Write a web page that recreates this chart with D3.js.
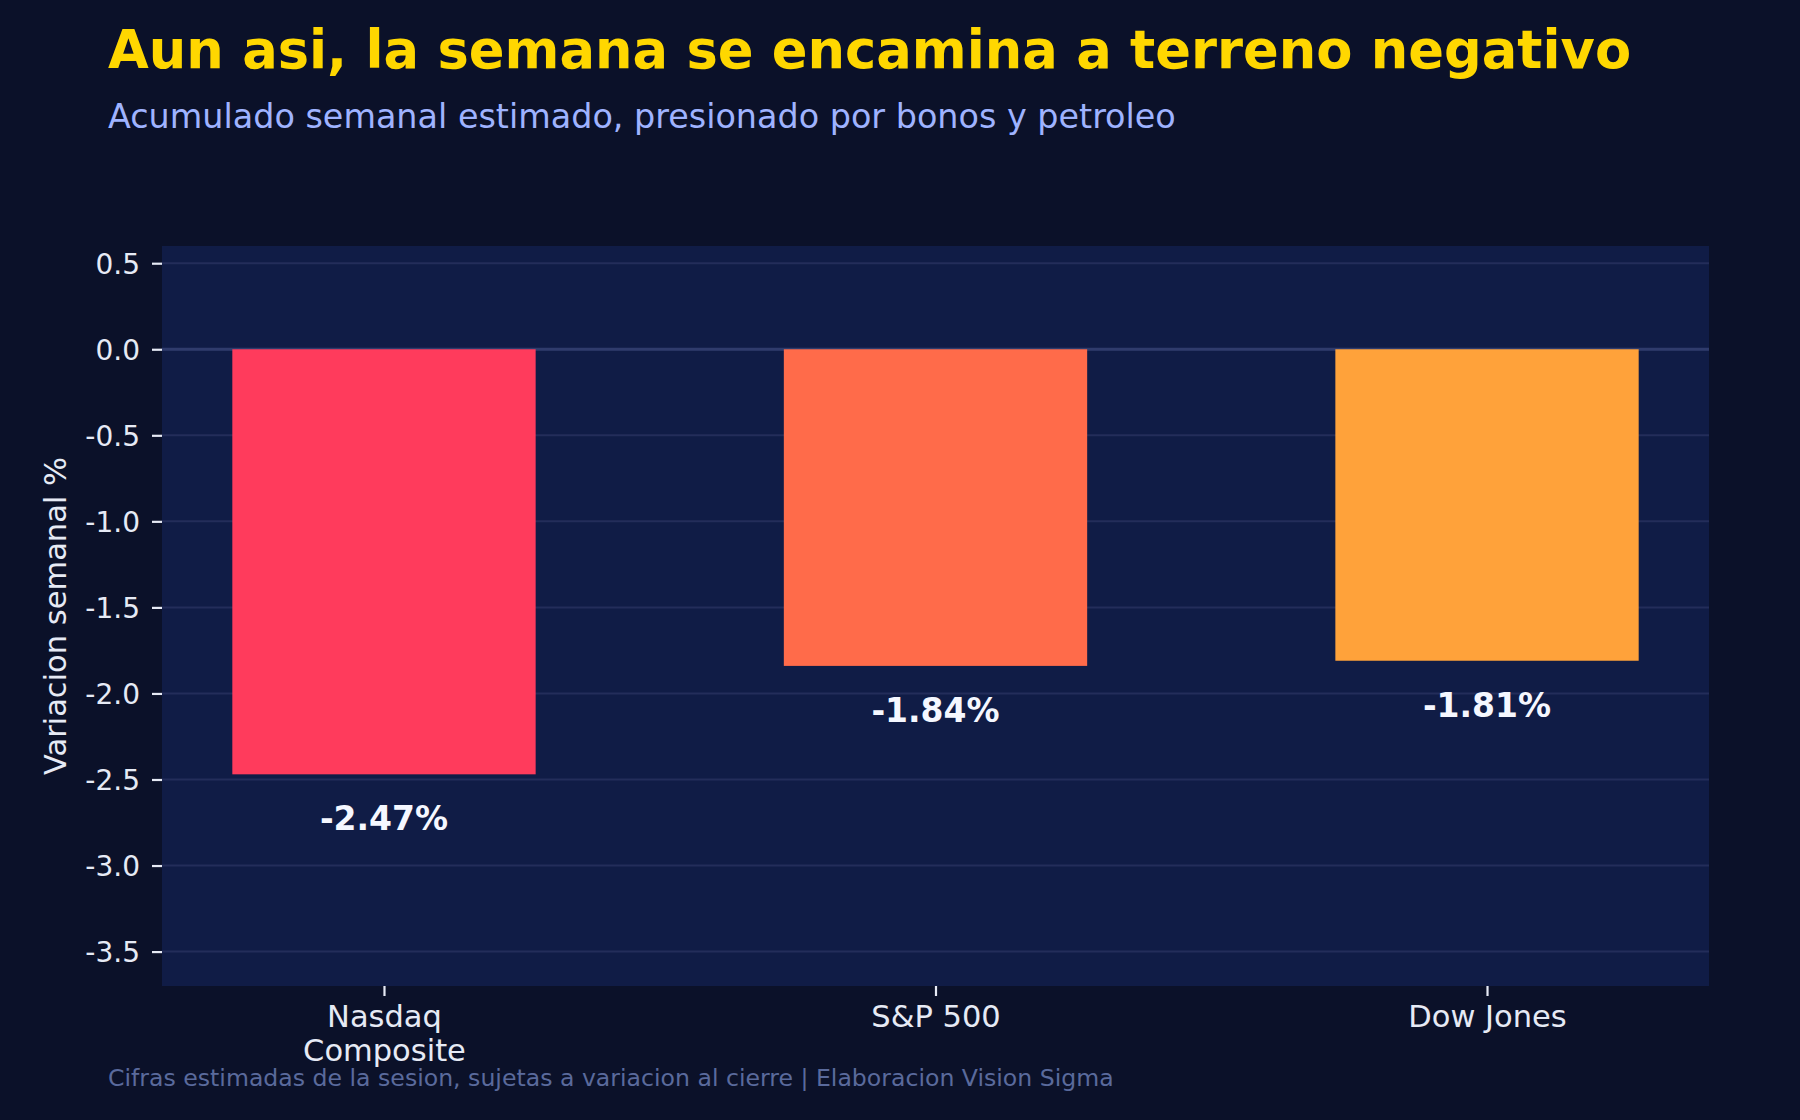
<!DOCTYPE html>
<html>
<head>
<meta charset="utf-8">
<script src="https://cdn.jsdelivr.net/npm/d3@7"></script>
<style>
  html, body { margin: 0; padding: 0; background: #0b1129; }
  svg { display: block; font-family: "DejaVu Sans", sans-serif; }
</style>
</head>
<body>
<div id="chart"></div>
<script>
// Weekly change by index (estimated session figures)
const indices = ['Nasdaq\nComposite', 'S&P 500', 'Dow Jones'];
const weeklyChange = [-2.47, -1.84, -1.81];
const barColors = ['#ff3b5c', '#ff6b4a', '#ffa23a'];
const yTicks = [0.5, 0.0, -0.5, -1.0, -1.5, -2.0, -2.5, -3.0, -3.5];

const titleText = 'Aun asi, la semana se encamina a terreno negativo';
const subtitleText = 'Acumulado semanal estimado, presionado por bonos y petroleo';
const yLabelText = 'Variacion semanal %';
const footerText = 'Cifras estimadas de la sesion, sujetas a variacion al cierre | Elaboracion Vision Sigma';

const width = 1800;
const height = 1120;
const plot = { left: 162, right: 1709, top: 246, bottom: 986 };

const svg = d3.select('#chart')
  .append('svg')
  .attr('width', width)
  .attr('height', height);

svg.append('rect')
  .attr('width', width)
  .attr('height', height)
  .attr('fill', '#0b1129');

// Scales: categories sit on integer positions, like a matplotlib bar chart
const x = d3.scaleLinear()
  .domain([-0.4025, indices.length - 1 + 0.4025])
  .range([plot.left, plot.right]);

const y = d3.scaleLinear()
  .domain([-3.7, 0.6])
  .range([plot.bottom, plot.top]);

const barWidth = 0.55;

// Plot background
svg.append('rect')
  .attr('x', plot.left)
  .attr('y', plot.top)
  .attr('width', plot.right - plot.left)
  .attr('height', plot.bottom - plot.top)
  .attr('fill', '#101c46');

// Horizontal grid
svg.append('g')
  .selectAll('line')
  .data(yTicks)
  .enter()
  .append('line')
  .attr('x1', plot.left)
  .attr('x2', plot.right)
  .attr('y1', d => y(d))
  .attr('y2', d => y(d))
  .attr('stroke', '#232d5a')
  .attr('stroke-width', 2);

// Zero line
svg.append('line')
  .attr('x1', plot.left)
  .attr('x2', plot.right)
  .attr('y1', y(0))
  .attr('y2', y(0))
  .attr('stroke', '#2f3b6c')
  .attr('stroke-width', 3);

// Bars
svg.append('g')
  .selectAll('rect')
  .data(weeklyChange)
  .enter()
  .append('rect')
  .attr('x', (d, i) => x(i - barWidth / 2))
  .attr('width', x(barWidth) - x(0))
  .attr('y', d => y(Math.max(0, d)))
  .attr('height', d => Math.abs(y(d) - y(0)))
  .attr('fill', (d, i) => barColors[i]);

// Value labels under each bar
svg.append('g')
  .selectAll('text')
  .data(weeklyChange)
  .enter()
  .append('text')
  .attr('x', (d, i) => x(i))
  .attr('y', d => y(d) + 56)
  .attr('text-anchor', 'middle')
  .attr('font-size', '33px')
  .attr('font-weight', 'bold')
  .attr('fill', '#f5f7ff')
  .text(d => d.toFixed(2) + '%');

// Y axis
const yAxis = svg.append('g')
  .attr('transform', `translate(${plot.left},0)`)
  .call(d3.axisLeft(y)
    .tickValues(yTicks)
    .tickFormat(d => d.toFixed(1))
    .tickSize(10)
    .tickPadding(12));

yAxis.select('.domain').remove();
yAxis.selectAll('.tick line').attr('stroke', '#e6eaf5').attr('stroke-width', 2.2);
yAxis.selectAll('.tick text')
  .attr('fill', '#e6eaf5')
  .attr('font-size', '28px')
  .attr('font-family', '"DejaVu Sans", sans-serif')
  .attr('dy', '0.36em');

// X axis
const xAxis = svg.append('g')
  .attr('transform', `translate(0,${plot.bottom})`)
  .call(d3.axisBottom(x)
    .tickValues(d3.range(indices.length))
    .tickFormat('')
    .tickSize(10));

xAxis.select('.domain').remove();
xAxis.selectAll('.tick line').attr('stroke', '#e6eaf5').attr('stroke-width', 2.2);

xAxis.selectAll('.tick')
  .append('text')
  .attr('text-anchor', 'middle')
  .attr('fill', '#e6eaf5')
  .attr('font-size', '30.5px')
  .attr('font-family', '"DejaVu Sans", sans-serif')
  .each(function(d) {
    const lines = indices[d].split('\n');
    d3.select(this).selectAll('tspan')
      .data(lines)
      .enter()
      .append('tspan')
      .attr('x', 0)
      .attr('y', (l, j) => 41 + j * 34)
      .text(l => l);
  });

// Y axis label
svg.append('text')
  .attr('transform', `translate(66,${(plot.top + plot.bottom) / 2}) rotate(-90)`)
  .attr('text-anchor', 'middle')
  .attr('fill', '#e6eaf5')
  .attr('font-size', '30.5px')
  .text(yLabelText);

// Title and subtitle
svg.append('text')
  .attr('x', 108)
  .attr('y', 68)
  .attr('fill', '#ffd700')
  .attr('font-size', '52.7px')
  .attr('font-weight', 'bold')
  .text(titleText);

svg.append('text')
  .attr('x', 108)
  .attr('y', 128)
  .attr('fill', '#9fb3ff')
  .attr('font-size', '33.4px')
  .text(subtitleText);

// Footer note
svg.append('text')
  .attr('x', 108)
  .attr('y', 1086)
  .attr('fill', '#5a6a9c')
  .attr('font-size', '23.6px')
  .text(footerText);
</script>
</body>
</html>
